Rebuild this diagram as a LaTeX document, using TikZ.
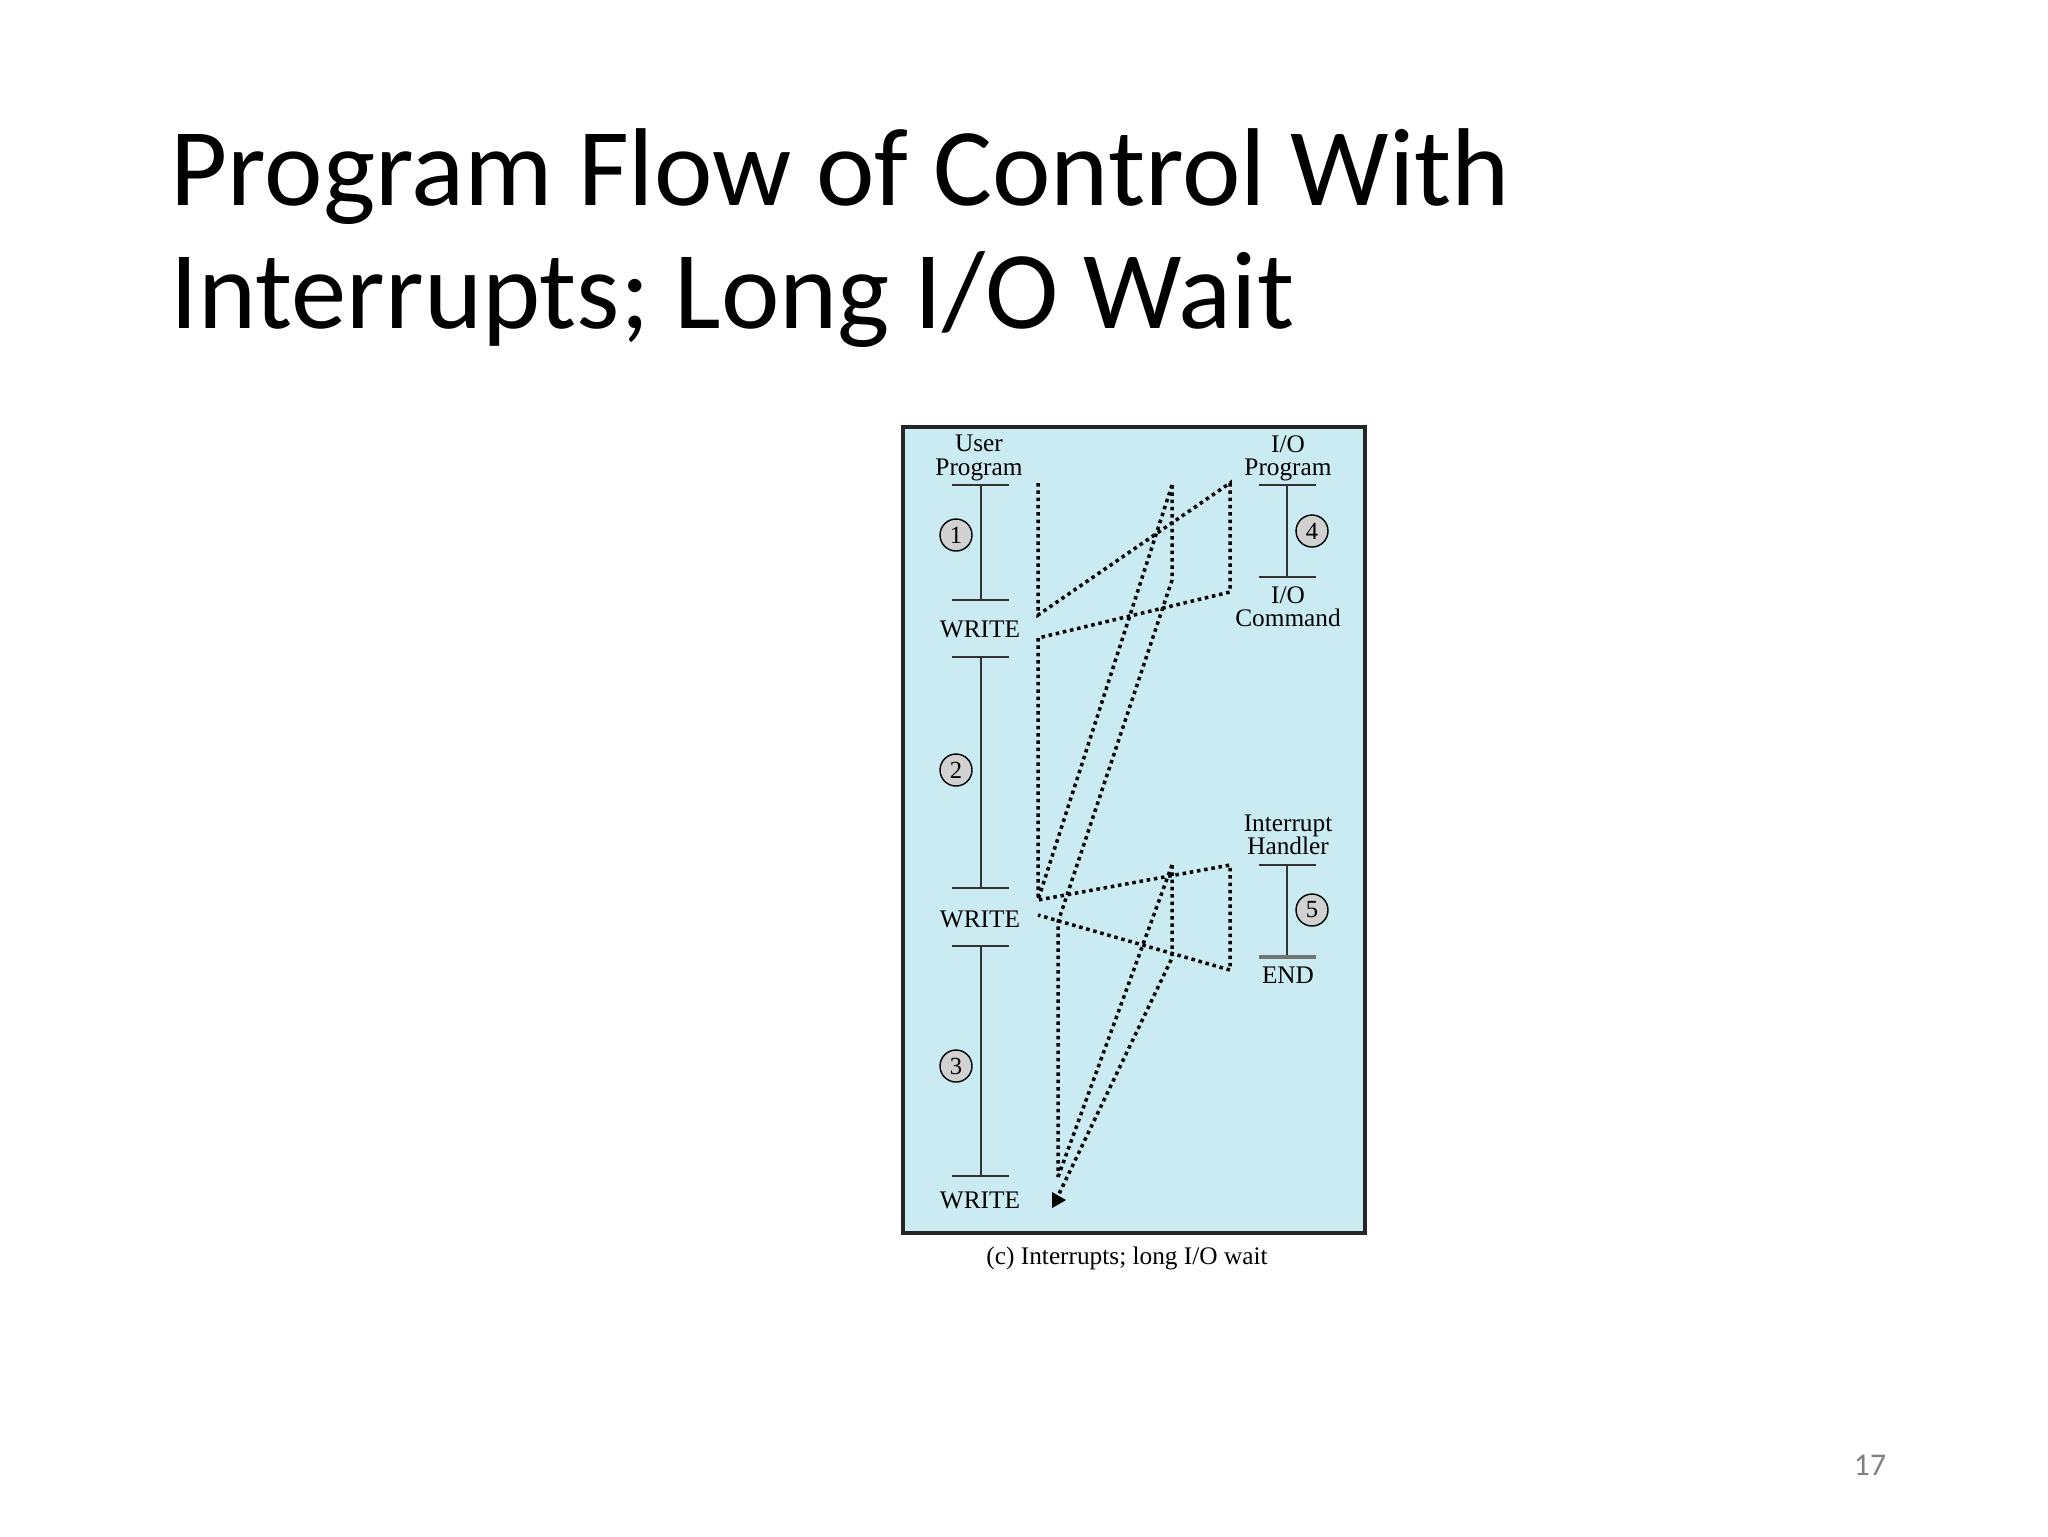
\documentclass[tikz,border=0pt]{standalone}
\usepackage{fontspec}
\setmainfont{Carlito}
\newfontfamily\figfont{Liberation Serif}
\definecolor{panelcyan}{RGB}{203,235,242}
\definecolor{pagegray}{RGB}{128,128,128}
\tikzset{
  flow/.style={line width=0.35mm, dash pattern=on 0.35mm off 0.38mm},
  bar/.style={line width=0.22mm, black!80},
  stepnum/.style={circle, draw, fill=black!18, minimum size=3.2mm, inner sep=0pt,
    font=\figfont\fontsize{7}{7}\selectfont},
  lbl/.style={font=\figfont\fontsize{7.2}{6.6}\selectfont, align=center, inner sep=0pt}
}
\begin{document}
\begin{tikzpicture}[x=0.1mm,y=-0.1mm]
  \useasboundingbox (0,0) rectangle (2048,1536);
  \fill[white] (0,0) rectangle (2048,1536);
  % slide title
  \node[anchor=base west, inner sep=0, font=\fontsize{31.5}{34}\selectfont] (title1) at (170,205) {Program Flow of Control With};
  \node[anchor=base west, inner sep=0, font=\fontsize{31.5}{34}\selectfont] (title2) at (170,328) {Interrupts; Long I/O Wait};
  \node[pagegray, font=\fontsize{9}{9}\selectfont] (pagenum) at (1870,1465) {17};
  % panel
  \draw[line width=0.4mm, draw=black!85, fill=panelcyan] (903,427) rectangle (1365,1233);
  \node[lbl] (caption) at (1127,1258) {(c) Interrupts; long I/O wait};
  % user program
  \node[lbl] (user) at (979,458) {User\\Program};
  \foreach \ya/\yb in {485/600,657/888,946/1176}
    \draw[bar] (981,\ya) -- (981,\yb);
  \foreach \y in {485,600,657,888,946,1176}
    \draw[bar] (952,\y) -- (1009,\y);
  \foreach \y/\n in {629/wa,919/wb,1200/wc}
    \node[lbl] (\n) at (980,\y) {WRITE};
  \foreach \y/\k in {535/1,770/2,1066/3}
    \node[stepnum] (s\k) at (956,\y) {\k};
  % I/O program
  \node[lbl] (iop) at (1288,458) {I/O\\Program};
  \draw[bar] (1287,485) -- (1287,577);
  \draw[bar] (1259,485) -- (1316,485);
  \draw[bar] (1259,577) -- (1316,577);
  \node[stepnum] (s4) at (1312,531) {4};
  \node[lbl] (ioc) at (1288,607) {I/O\\Command};
  % interrupt handler
  \node[lbl] (ih) at (1288,835) {Interrupt\\Handler};
  \draw[bar] (1287,865) -- (1287,957);
  \draw[bar] (1259,865) -- (1316,865);
  \draw[line width=0.35mm, black!55] (1259,957) -- (1316,957);
  \node[stepnum] (s5) at (1312,910) {5};
  \node[lbl] (iend) at (1288,975) {END};
  % flow of control
  \coordinate (u0) at (1038,483);
  \coordinate (u1) at (1038,615);
  \coordinate (o0) at (1230,483);
  \coordinate (o1) at (1230,592);
  \coordinate (u2) at (1038,638);
  \coordinate (u3) at (1038,900);
  \coordinate (h0) at (1230,865);
  \coordinate (h1) at (1230,970);
  \coordinate (u4) at (1038,915);
  \coordinate (p0) at (1172,485);
  \coordinate (p1) at (1172,580);
  \coordinate (j0) at (1058,922);
  \coordinate (j1) at (1058,1177);
  \coordinate (q0) at (1172,865);
  \coordinate (q1) at (1172,958);
  \coordinate (tip) at (1058,1196);
  \draw[flow] (u0) -- (u1) -- (o0) -- (o1) -- (u2) -- (u3) -- (h0) -- (h1) -- (u4);
  \draw[flow] (p0) -- (u3);
  \draw[flow] (p0) -- (p1) -- (j0) -- (j1);
  \draw[flow] (q0) -- (j1);
  \draw[flow] (q0) -- (q1) -- (tip);
  \fill (1052,1192) -- (1066,1200) -- (1052,1208) -- cycle;
\end{tikzpicture}
\end{document}
